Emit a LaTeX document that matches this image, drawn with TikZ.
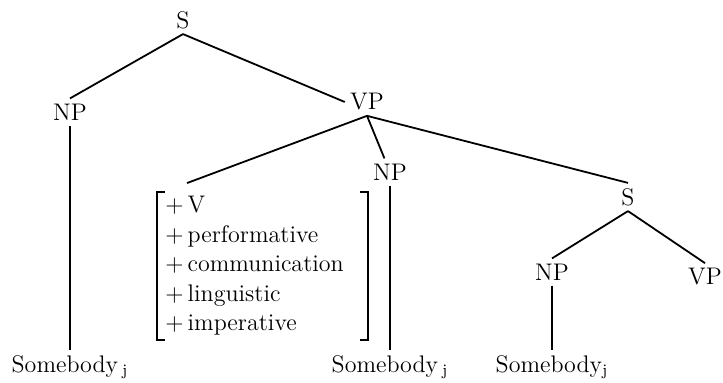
\documentclass[tikz,border=0pt]{standalone}
\usepackage{tikz}
\usetikzlibrary{positioning}
\tikzset{
cat/.style={inner sep=2.5pt,font=\fontsize{12}{14.75}\selectfont},
leaf/.style={inner sep=2.5pt,font=\fontsize{12}{14.75}\selectfont},
featbox/.style={align=left,inner xsep=4pt,inner ysep=2pt,font=\fontsize{12}{14.75}\selectfont},
branch/.style={line width=.9pt},
brack/.style={line width=.9pt}
}
\begin{document}
\begin{tikzpicture}[x=.5pt,y=-.5pt]
\useasboundingbox (0,0) rectangle (723,383);
% categories
\node[cat] (s1) at (183,20) {S};
\node[cat] (np1) at (70,112) {NP};
\node[cat] (vp1) at (367,102) {VP};
\node[cat] (np2) at (390,172) {NP};
\node[cat] (s2) at (628,197) {S};
\node[cat] (np3) at (552,272) {NP};
\node[cat] (vp2) at (705,277) {VP};
% leaves
\node[leaf] (sb1) at (70,367) {Somebody\,\textsubscript{j}};
\node[leaf] (sb2) at (390,367) {Somebody\,\textsubscript{j}};
\node[leaf] (sb3) at (552,367) {Somebody\textsubscript{j}};
\node[featbox,anchor=west] (feat) at (157,266) {+\,V\\+\,performative\\+\,communication\\+\,linguistic\\+\,imperative};
% brackets
\draw[brack] ([xshift=4pt]feat.north west) -- (feat.north west) -- (feat.south west) -- ([xshift=4pt]feat.south west);
\draw[brack] ([xshift=4pt]feat.north east) -- ([xshift=8pt]feat.north east) -- ([xshift=8pt]feat.south east) -- ([xshift=4pt]feat.south east);
% branches
\draw[branch] (s1.south) -- (np1.north);
\draw[branch] (s1.south) -- (vp1.west);
\draw[branch] (vp1.south) -- ([xshift=15pt,yshift=4.5pt]feat.north west);
\draw[branch] (vp1.south) -- (np2);
\draw[branch] (vp1.south) -- (s2.north);
\draw[branch] (s2.south) -- (np3.north);
\draw[branch] (s2.south) -- (vp2.north);
\draw[branch] (np1) -- (sb1);
\draw[branch] (np2) -- (sb2);
\draw[branch] (np3) -- (sb3);
\end{tikzpicture}
\end{document}
